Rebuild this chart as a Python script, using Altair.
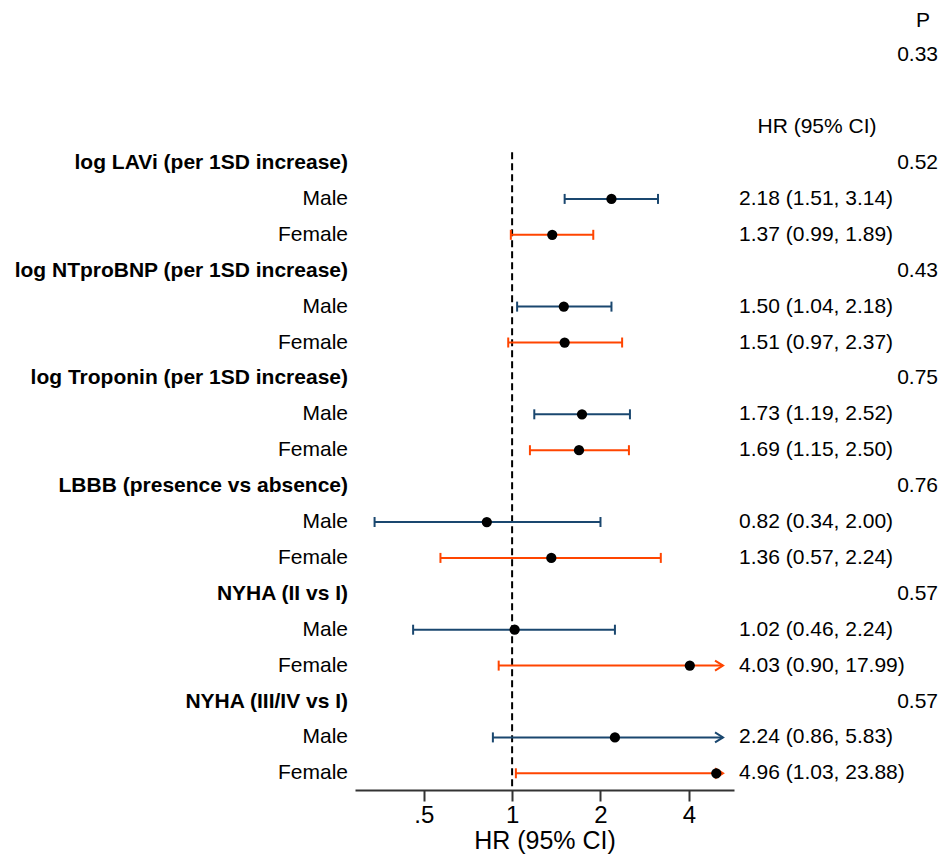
import altair as alt
import pandas as pd

# ---------------- data ----------------
groups = ["log LAVi (per 1SD increase)", "log NTproBNP (per 1SD increase)",
          "log Troponin (per 1SD increase)", "LBBB (presence vs absence)",
          "NYHA (II vs I)", "NYHA (III/IV vs I)"]
p_inter = ["0.52", "0.43", "0.75", "0.76", "0.57", "0.57"]

male_hr = [2.18, 1.50, 1.73, 0.82, 1.02, 2.24]
male_lo = [1.51, 1.04, 1.19, 0.34, 0.46, 0.86]
male_hi = [3.14, 2.18, 2.52, 2.00, 2.24, 5.83]
male_txt = ["2.18 (1.51, 3.14)", "1.50 (1.04, 2.18)", "1.73 (1.19, 2.52)",
            "0.82 (0.34, 2.00)", "1.02 (0.46, 2.24)", "2.24 (0.86, 5.83)"]

female_hr = [1.37, 1.51, 1.69, 1.36, 4.03, 4.96]
female_lo = [0.99, 0.97, 1.15, 0.57, 0.90, 1.03]
female_hi = [1.89, 2.37, 2.50, 3.21, 17.99, 23.88]
female_txt = ["1.37 (0.99, 1.89)", "1.51 (0.97, 2.37)", "1.69 (1.15, 2.50)",
              "1.36 (0.57, 2.24)", "4.03 (0.90, 17.99)", "4.96 (1.03, 23.88)"]

top_labels = ["P", "0.33", "HR (95%  CI)"]
top_rows = [-4, -3, -1]

x_ticks = [0.5, 1, 2, 4]
x_min, x_max = 0.2916, 5.70
clip_at = 5.23
y_min, y_max = -4.318, 17.465

# ---------------- tables ----------------
hdr_rows, sub_rows = [], []
for g, name in enumerate(groups):
    hdr_rows.append({"row": 3 * g, "label": name, "p": p_inter[g]})
    for k, (sex, hr, lo, hi, txt) in enumerate([
        ("Male", male_hr[g], male_lo[g], male_hi[g], male_txt[g]),
        ("Female", female_hr[g], female_lo[g], female_hi[g], female_txt[g]),
    ]):
        sub_rows.append({
            "row": 3 * g + 1 + k, "label": sex, "sex": sex, "hr": hr, "lo": lo,
            "hi": hi, "hi_draw": min(hi, clip_at), "clipped": hi > clip_at,
            "txt": txt,
        })
hdr = pd.DataFrame(hdr_rows)
sub = pd.DataFrame(sub_rows)
caps_lo = sub[["row", "sex", "lo"]].rename(columns={"lo": "v"})
caps_hi = sub.loc[~sub["clipped"], ["row", "sex", "hi"]].rename(columns={"hi": "v"})
caps = pd.concat([caps_lo, caps_hi], ignore_index=True)
arrows = sub.loc[sub["clipped"], ["row", "sex", "hi_draw"]]
top = pd.DataFrame({"row": top_rows, "label": top_labels})

FONT = "Liberation Sans"
NAVY = "#1a476f"
ORANGE = "#ff4500"

xscale = alt.Scale(type="log", domain=[x_min, x_max], nice=False, zero=False)
yscale = alt.Scale(domain=[y_min, y_max], reverse=True, nice=False, zero=False)
xaxis = alt.Axis(values=x_ticks, title="HR (95% CI)", grid=False,
                 labelExpr="datum.value == 0.5 ? '.5' : format(datum.value, 'd')")
color = alt.Color("sex:N", scale=alt.Scale(domain=["Male", "Female"],
                                           range=[NAVY, ORANGE]), legend=None)


def X(field):
    return alt.X(field, type="quantitative", scale=xscale, axis=xaxis)


Y = alt.Y("row:Q", scale=yscale, axis=None)

ref = alt.Chart(pd.DataFrame({"x": [1], "y0": [-0.3], "y1": [y_max]})).mark_rule(
    color="black", strokeWidth=2, strokeDash=[7, 4]
).encode(x=X("x"), y=alt.Y("y0:Q", scale=yscale, axis=None), y2="y1:Q")

ci = alt.Chart(sub).mark_rule(strokeWidth=2).encode(
    x=X("lo"), x2="hi_draw:Q", y=Y, color=color)

capm = alt.Chart(caps).mark_point(shape="M0,-1L0,1", size=100, strokeWidth=2,
                                  filled=False, opacity=1).encode(
    x=X("v"), y=Y, color=color)

arrm = alt.Chart(arrows).mark_point(shape="M-1.6,-1L0,0L-1.6,1", size=100,
                                    strokeWidth=2, filled=False, opacity=1).encode(
    x=X("hi_draw"), y=Y, color=color)

pts = alt.Chart(sub).mark_point(shape="circle", size=105, filled=True,
                                color="black", opacity=1).encode(x=X("hr"), y=Y)

hdr_lab = alt.Chart(hdr).mark_text(align="right", baseline="middle", font=FONT,
                                   fontSize=21, fontWeight="bold", color="black").encode(
    x=alt.value(-7), y=Y, text="label:N")
sub_lab = alt.Chart(sub).mark_text(align="right", baseline="middle", font=FONT,
                                   fontSize=21, color="black").encode(
    x=alt.value(-7), y=Y, text="label:N")
hr_txt = alt.Chart(sub).mark_text(align="left", baseline="middle", font=FONT,
                                  fontSize=21, color="black").encode(
    x=alt.value(384), y=Y, text="txt:N")
p_txt = alt.Chart(hdr).mark_text(align="right", baseline="middle", font=FONT,
                                 fontSize=21, color="black").encode(
    x=alt.value(583), y=Y, text="p:N")
top_p = alt.Chart(top[top["row"] == -3]).mark_text(
    align="right", baseline="middle", font=FONT, fontSize=21, color="black").encode(
    x=alt.value(583), y=Y, text="label:N")
top_P = alt.Chart(top[top["row"] == -4]).mark_text(
    align="center", baseline="middle", font=FONT, fontSize=21, color="black",
    dy=2).encode(x=alt.value(568), y=Y, text="label:N")
top_hr = alt.Chart(top[top["row"] == -1]).mark_text(
    align="center", baseline="middle", font=FONT, fontSize=21, color="black").encode(
    x=alt.value(462), y=Y, text="label:N")

chart = alt.layer(ref, ci, capm, arrm, pts, hdr_lab, sub_lab, hr_txt, p_txt,
                  top_p, top_P, top_hr).properties(
    width=379, height=782,
    autosize=alt.AutoSizeParams(type="none"),
    padding={"left": 347, "top": 0, "right": 204, "bottom": 64},
).configure_view(stroke=None).configure_axis(
    domainColor="#333333", domainWidth=2, tickColor="#333333", tickWidth=2,
    tickSize=11, labelFontSize=24, labelColor="black", labelFont=FONT,
    labelPadding=2, titleFontSize=25, titleFont=FONT, titleFontWeight="normal",
    titleColor="black", titlePadding=1,
)

chart.save("out.html", embed_options={"renderer": "svg", "actions": False})
